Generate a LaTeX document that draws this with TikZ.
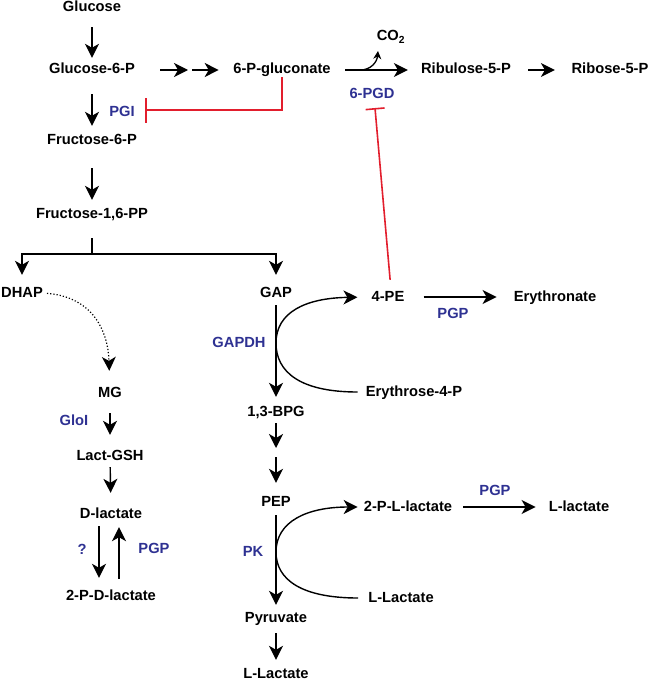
\documentclass[tikz,border=0pt]{standalone}
\usepackage{fontspec}
\setmainfont{Liberation Sans}
\usetikzlibrary{arrows.meta}
\definecolor{enzblue}{RGB}{46,49,146}
\definecolor{inhred}{RGB}{226,30,45}
\begin{document}
\begin{tikzpicture}[x=1pt,y=-1pt,
  met/.style={font=\fontsize{14.7}{17}\selectfont\bfseries, inner sep=0pt, text height=11pt, text depth=3pt},
  enz/.style={met, text=enzblue},
  arr/.style={line width=1.4pt, -{Stealth[length=14pt,width=14pt,inset=4pt]}},
  smallarr/.style={line width=1.3pt, -{Stealth[length=8pt,width=8pt,inset=2.5pt]}},
  ln/.style={line width=1.4pt},
  dotarr/.style={line width=1.2pt, dotted, -{Stealth[length=14pt,width=14pt,inset=4pt,line width=0pt]}},
  inh/.style={line width=1.6pt, draw=inhred, -{Bar[width=#1]}},
  inh/.default=20pt
]
\useasboundingbox (0,0) rectangle (650,685);

% metabolites
\node[met] (glc)  at (92,8)   {Glucose};
\node[met] (g6p)  at (92,70)  {Glucose-6-P};
\node[met] (glcn) at (282,70) {6-P-gluconate};
\node[met] (rib)  at (466,70) {Ribulose-5-P};
\node[met] (ribo) at (610,70) {Ribose-5-P};
\node[met] (co2)  at (391,37) {CO\textsubscript{2}};
\node[met] (f6p)  at (92,140) {Fructose-6-P};
\node[met] (f16)  at (92,214) {Fructose-1,6-PP};
\node[met] (dhap) at (22,293) {DHAP};
\node[met] (gap)  at (276,293) {GAP};
\node[met] (pe)   at (388,297) {4-PE};
\node[met] (eryn) at (555,297) {Erythronate};
\node[met] (ery)  at (414,392) {Erythrose-4-P};
\node[met] (mg)   at (110,393) {MG};
\node[met] (bpg)  at (276,412) {1,3-BPG};
\node[met] (lgsh) at (110,456) {Lact-GSH};
\node[met] (dlac) at (111,514) {D-lactate};
\node[met] (pdl)  at (111,596) {2-P-D-lactate};
\node[met] (pep)  at (276,502) {PEP};
\node[met] (pll)  at (408,507) {2-P-L-lactate};
\node[met] (llac) at (579,507) {L-lactate};
\node[met] (llac2) at (401,598) {L-Lactate};
\node[met] (pyr)  at (276,618) {Pyruvate};
\node[met] (llac3) at (276,674) {L-Lactate};

% enzymes
\node[enz] (pgi)   at (122,112) {PGI};
\node[enz] (pgd)   at (372,94)  {6-PGD};
\node[enz] (gapdh) at (239,343) {GAPDH};
\node[enz] (pgp1)  at (453,314) {PGP};
\node[enz] (gloi)  at (74,421)  {GloI};
\node[enz] (q)     at (82,550)  {?};
\node[enz] (pgp2)  at (154,549) {PGP};
\node[enz] (pk)    at (253,552) {PK};
\node[enz] (pgp3)  at (495,491) {PGP};

% helper coordinates
\coordinate (m1) at (188,70);
\coordinate (m2) at (192,70);
\coordinate (co2s) at (360,70);
\coordinate (co2t) at (378,51);
\coordinate (pgibar) at (145,110);
\coordinate (pgdbar) at (375,108);
\coordinate (br) at (92,254);
\coordinate (gapdhpt) at (276,343);
\coordinate (pkpt) at (276,552);
\coordinate (m3) at (276,452);

% upper glycolysis
\draw[arr, shorten <=12pt, shorten >=5pt] (glc) -- (g6p);
\draw[arr, shorten <=17pt, shorten >=7pt] (g6p) -- (f6p);
\draw[arr, shorten <=21pt, shorten >=7pt] (f6p) -- (f16);
\draw[ln, shorten <=17pt] (f16) -- (br);
\draw[arr, shorten >=11pt] (br) -| (dhap);
\draw[arr, shorten >=11pt] (br) -| (gap);

% pentose phosphate
\draw[arr, shorten <=25pt] (g6p) -- (m1);
\draw[arr, shorten >=14.5pt] (m2) -- (glcn);
\draw[arr, shorten <=14.5pt, shorten >=13pt] (glcn) -- (rib);
\draw[smallarr] (co2s) .. controls (371,70) and (377,62) .. (co2t);
\draw[arr, shorten <=17pt, shorten >=16.5pt] (rib) -- (ribo);

% inhibitions
\draw[inh=25pt] (glcn.south) |- (pgibar);
\draw[inh=19pt, shorten <=10pt] ([xshift=3pt]pe.north) -- (pgdbar);

% methylglyoxal branch
\draw[dotarr, shorten <=4pt, shorten >=15pt] (dhap.east) .. controls (92,297) and (108,330) .. (mg);
\draw[arr, shorten <=13pt, shorten >=14pt] (mg) -- (lgsh);
\draw[arr, shorten <=4pt, shorten >=14pt] (lgsh) -- (dlac);
\draw[arr, shorten <=5pt, shorten >=11pt] ([xshift=-12pt]dlac.south) -- ([xshift=-12pt]pdl.north);
\draw[arr, shorten <=10pt, shorten >=6pt] ([xshift=8pt]pdl.north) -- ([xshift=8pt]dlac.south);

% lower glycolysis
\draw[arr, shorten <=5pt, shorten >=8pt] (gap) -- (bpg);
\draw[arr, shorten <=8pt, shorten >=14pt] (ery.west) .. controls (300,392) and (276,372) .. (gapdhpt) .. controls (276,312) and (306,298) .. (pe.west);
\draw[arr, shorten <=19pt, shorten >=17pt] (pe) -- (eryn);
\draw[arr, shorten <=4pt, shorten >=4pt] (bpg) -- (m3);
\draw[arr, shorten <=5pt, shorten >=12pt] (m3) -- (pep);
\draw[arr, shorten <=6pt, shorten >=6pt] (pep) -- (pyr);
\draw[arr, shorten <=10pt, shorten >=6pt] (llac2.west) .. controls (302,598) and (276,580) .. (pkpt) .. controls (276,522) and (306,507) .. (pll.west);
\draw[arr, shorten <=11pt, shorten >=13pt] (pll) -- (llac);
\draw[arr, shorten <=8pt, shorten >=7pt] (pyr) -- (llac3);
\end{tikzpicture}
\end{document}
